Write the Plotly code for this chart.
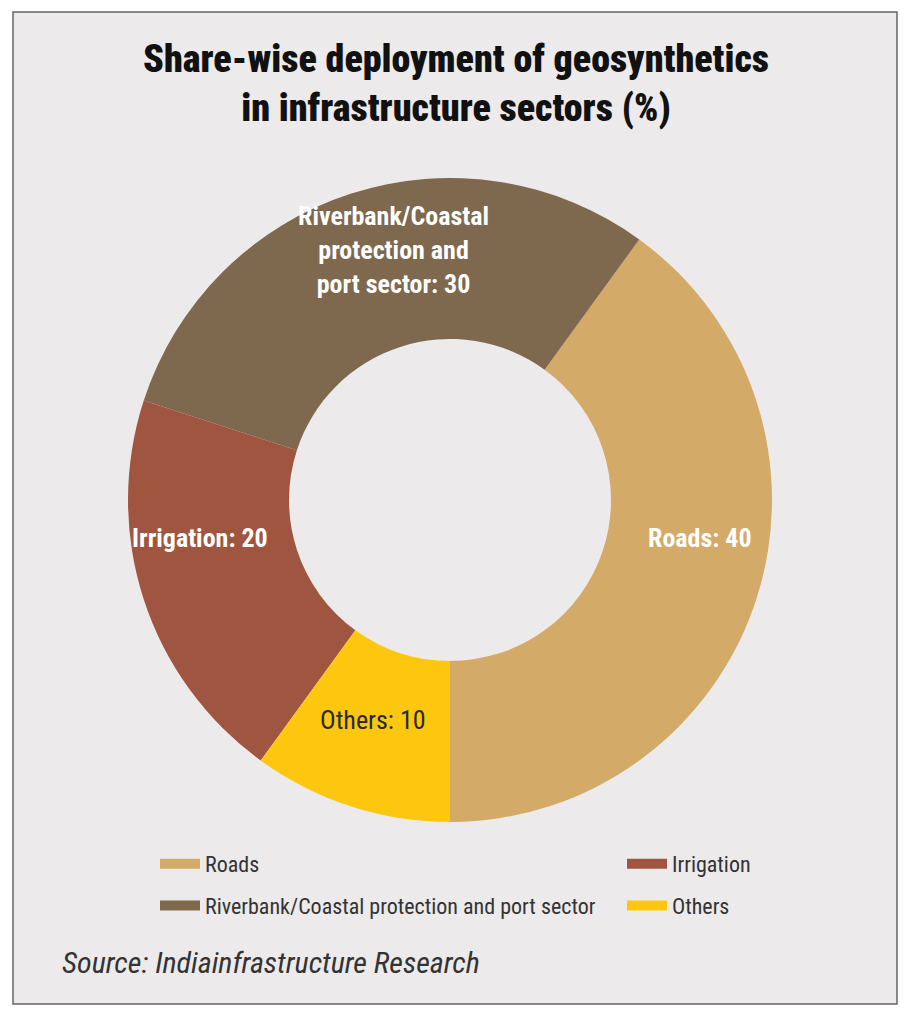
import plotly.graph_objects as go

# chart data
sectors = ["Roads", "Riverbank/Coastal protection and port sector", "Irrigation", "Others"]
slice_text = ["Roads: 40", "Riverbank/Coastal<br>protection and<br>port sector: 30", "Irrigation: 20", "Others: 10"]
shares = [40, 30, 20, 10]
colors = ["#D3AA67", "#7E684E", "#A05540", "#FDC70F"]
text_colors = ["white", "white", "white", "#2a2a2a"]
legend_cols = ["legend", "legend", "legend2", "legend2"]  # Roads/Riverbank left, Irrigation/Others right
# where the slice labels sit on the page (px), as in the original artwork
label_pos = [(700, 538), (393, 250), (200, 538), (373, 720)]

# page body has an 8px margin, so the figure is 16px smaller than the window
W, H = 896, 1008
OFF = 8
NARROW = "Liberation Sans Narrow, Arial Narrow, Roboto Condensed, sans-serif"


def px(x):
    return (x - OFF) / W


def py(y):
    return 1 - (y - OFF) / H


fig = go.Figure()

# donut
fig.add_trace(go.Pie(
    labels=sectors,
    values=shares,
    textinfo="none",
    marker=dict(colors=colors, line=dict(width=0)),
    hole=0.5,
    sort=False,
    direction="counterclockwise",
    rotation=36,
    showlegend=False,
    domain=dict(x=[px(128), px(772)], y=[py(822), py(178)]),
))

# legend entries (two columns)
for name, col, leg in zip(sectors, colors, legend_cols):
    fig.add_trace(go.Scatter(
        x=[None], y=[None], mode="lines", name=name,
        legendgroup=name, legend=leg,
        line=dict(color=col, width=16),
    ))

# slice labels
annotations = []
for t, c, (lx, ly) in zip(slice_text, text_colors, label_pos):
    annotations.append(dict(
        text="<b>%s</b>" % t if c == "white" else t,
        xref="paper", yref="paper", x=px(lx), y=py(ly),
        xanchor="center", yanchor="middle", showarrow=False,
        font=dict(family=NARROW, size=26, color=c),
    ))

annotations.append(dict(
    text="<i>Source: Indiainfrastructure Research</i>",
    xref="paper", yref="paper",
    x=px(60), y=py(962), xanchor="left", yanchor="middle",
    showarrow=False,
    font=dict(family=NARROW, size=30, color="#333333"),
))

legend_style = dict(
    font=dict(family=NARROW, size=22, color="#333333"),
    bgcolor="rgba(0,0,0,0)",
    traceorder="grouped",
    tracegroupgap=10,
    itemwidth=40,
    yanchor="top",
    y=py(843),
)

fig.update_layout(
    width=W, height=H,
    margin=dict(l=0, r=0, t=0, b=0),
    paper_bgcolor="white",
    plot_bgcolor="rgba(0,0,0,0)",
    xaxis=dict(visible=False),
    yaxis=dict(visible=False),
    title=dict(
        text="Share-wise deployment of geosynthetics<br>in infrastructure sectors (%)",
        x=0.5, xanchor="center",
        y=py(72), yanchor="middle",
        font=dict(family=NARROW, size=38, color="#111111", weight=900),
    ),
    legend=dict(x=px(155), xanchor="left", **legend_style),
    legend2=dict(x=px(622), xanchor="left", **legend_style),
    shapes=[dict(
        type="rect", xref="paper", yref="paper",
        x0=px(13), x1=px(897), y0=py(1004), y1=py(12),
        line=dict(color="#666666", width=1.5),
        fillcolor="#ECEAEB", layer="below",
    )],
    annotations=annotations,
)

fig.write_html("out.html")
